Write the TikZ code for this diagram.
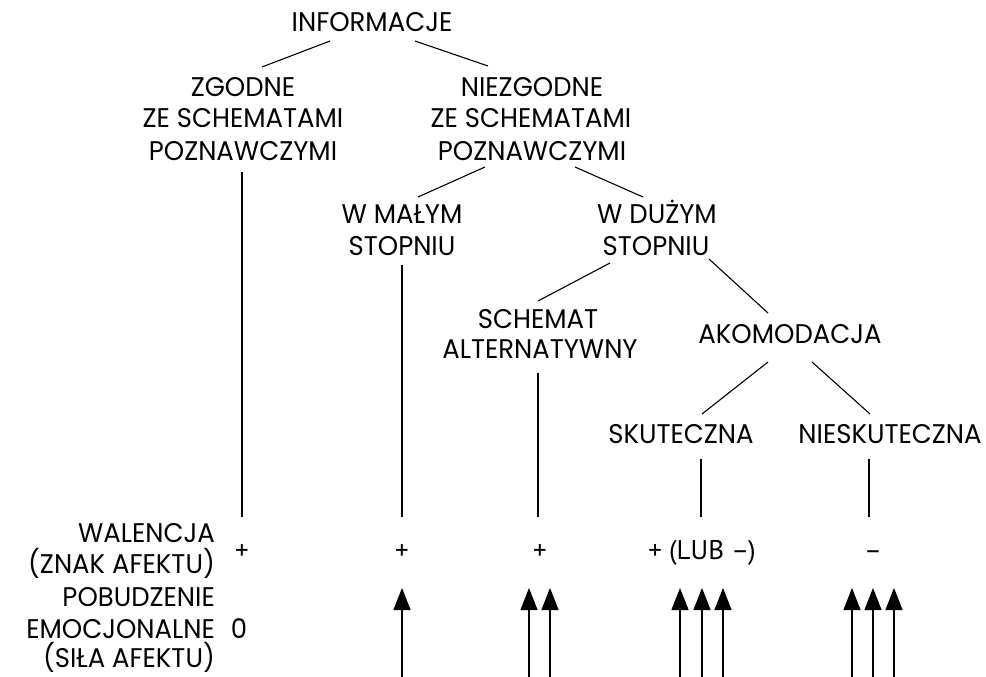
\documentclass[tikz,border=0pt]{standalone}
\usepackage{fontspec}
\setmainfont{Poppins}[FakeStretch=0.96]
\newfontfamily\valfont{PT Sans}
\usetikzlibrary{arrows.meta}
\begin{document}
\begin{tikzpicture}[x=1pt,y=-1pt,
  lbl/.style={inner sep=0pt,anchor=base,font=\fontsize{27}{32}\selectfont},
  lblr/.style={lbl,anchor=base east},
  val/.style={inner sep=0pt,anchor=base,font=\valfont\fontsize{27}{30}\selectfont},
  conn/.style={line width=1.1pt},
  up/.style={line width=1.1pt,-{Triangle[length=22pt,width=17pt]}}]
\useasboundingbox (0,0) rectangle (986,677);
% texts
\node[lbl] (info) at (372,32) {INFORMACJE};
\node[lbl] (zg1) at (243,96) {ZGODNE};
\node[lbl] (zg2) at (243,128) {ZE SCHEMATAMI};
\node[lbl] (zg3) at (243,160) {POZNAWCZYMI};
\node[lbl] (nz1) at (532,96) {NIEZGODNE};
\node[lbl] (nz2) at (531,128) {ZE SCHEMATAMI};
\node[lbl] (nz3) at (532,160) {POZNAWCZYMI};
\node[lbl] (wm1) at (402,223) {W MAŁYM};
\node[lbl] (wm2) at (402,255) {STOPNIU};
\node[lbl] (wd1) at (657,223) {W DUŻYM};
\node[lbl] (wd2) at (656,255) {STOPNIU};
\node[lbl] (sa1) at (538,328) {SCHEMAT};
\node[lbl] (sa2) at (540,358) {ALTERNATYWNY};
\node[lbl] (ak) at (790,343) {AKOMODACJA};
\node[lbl] (sk) at (681,443) {SKUTECZNA};
\node[lbl] (ns) at (890,443) {NIESKUTECZNA};
\node[lblr] (w1) at (215,542) {WALENCJA};
\node[lblr] (w2) at (215,573) {(ZNAK AFEKTU)};
\node[lblr] (p1) at (215,606) {POBUDZENIE};
\node[lblr] (p2) at (215,638) {EMOCJONALNE};
\node[lblr] (p3) at (215,667) {(SIŁA AFEKTU)};
\node[lbl] (zero) at (239,638) {0};
\node[val] (v1) at (242,559) {+};
\node[val] (v2) at (402,559) {+};
\node[val] (v3) at (540,559) {+};
\node[val] (v4) at (702,559) {+ (LUB –)};
\node[val] (v5) at (873,559) {–};
% connector ends
\coordinate (a1) at (330,41);  \coordinate (a2) at (262,67);
\coordinate (b1) at (415,41);  \coordinate (b2) at (488,66);
\coordinate (c1) at (485,167); \coordinate (c2) at (418,197);
\coordinate (d1) at (575,167); \coordinate (d2) at (643,197);
\coordinate (e1) at (610,263); \coordinate (e2) at (538,301);
\coordinate (f1) at (709,259); \coordinate (f2) at (768,313);
\coordinate (g1) at (768,362); \coordinate (g2) at (702,414);
\coordinate (h1) at (812,362); \coordinate (h2) at (870,414);
\draw[conn] (a1) -- (a2);
\draw[conn] (b1) -- (b2);
\draw[conn] (c1) -- (c2);
\draw[conn] (d1) -- (d2);
\draw[conn] (e1) -- (e2);
\draw[conn] (f1) -- (f2);
\draw[conn] (g1) -- (g2);
\draw[conn] (h1) -- (h2);
% verticals
\draw[conn] (242,172) -- (242,517);
\draw[conn] (402,265) -- (402,517);
\draw[conn] (538,373) -- (538,517);
\draw[conn] (701,459) -- (701,517);
\draw[conn] (869,459) -- (869,517);
% arrows
\foreach \x in {402,529,550,680,702,723,852,873,894}
  \draw[up] (\x,677) -- (\x,588);
\end{tikzpicture}
\end{document}
